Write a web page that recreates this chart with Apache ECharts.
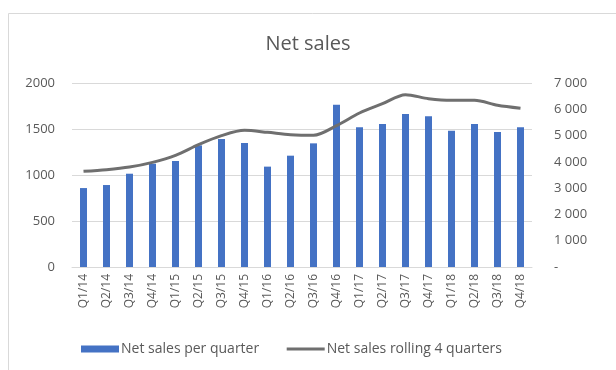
<!DOCTYPE html>
<html><head><meta charset="utf-8">
<script src="https://cdn.jsdelivr.net/npm/echarts@6/dist/echarts.min.js"></script>
<style>html,body{margin:0;padding:0;background:#fff}#c{width:616px;height:370px}</style>
</head><body><div id="c"></div>
<script>
const categories = ["Q1/14","Q2/14","Q3/14","Q4/14","Q1/15","Q2/15","Q3/15","Q4/15","Q1/16","Q2/16","Q3/16","Q4/16","Q1/17","Q2/17","Q3/17","Q4/17","Q1/18","Q2/18","Q3/18","Q4/18"];
const perQuarter = [858,891,1014,1123,1152,1322,1391,1348,1091,1210,1344,1764,1518,1554,1663,1638,1482,1554,1467,1518];
const rolling4 = [3640,3703,3804,3982,4248,4654,4996,5199,5123,5034,5010,5376,5858,6213,6556,6404,6340,6340,6150,6036];
const leftTicks = [0,500,1000,1500,2000];
const rightTicks = [0,1000,2000,3000,4000,5000,6000,7000];

const font = "'Open Sans', sans-serif";
const txt = '#595959';
const chart = echarts.init(document.getElementById('c'));
chart.setOption({
  animation: false,
  backgroundColor: '#fff',
  textStyle: {fontFamily: font},
  graphic: [{type:'rect', shape:{x:8.5,y:13.5,width:640,height:400}, style:{fill:'none',stroke:'#d9d9d9',lineWidth:1}, silent:true}],
  title: {text:'Net sales', left:'center', top:29, textStyle:{fontFamily:font, fontSize:20, fontWeight:'normal', color:txt}},
  grid: {left:72, right:84, top:83, bottom:103},
  legend: {bottom:9, left:76, itemGap:26, itemWidth:38, itemHeight:7,
    textStyle:{fontFamily:font, fontSize:14, color:txt, padding:[0,0,0,-3]},
    data:[{name:'Net sales per quarter', icon:'rect'},
          {name:'Net sales rolling 4 quarters', itemStyle:{opacity:0}, lineStyle:{width:3, color:'#6f6f6f'}}]},
  xAxis: {type:'category', data:categories,
    axisLine:{show:true, lineStyle:{color:'#d9d9d9'}}, axisTick:{show:false},
    axisLabel:{rotate:90, fontSize:12, color:txt, fontFamily:font, interval:0, margin:7}},
  yAxis: [
    {type:'value', min:leftTicks[0], max:leftTicks[leftTicks.length-1], interval:500,
     axisLine:{show:false}, axisTick:{show:false},
     splitLine:{lineStyle:{color:'#d9d9d9'}},
     axisLabel:{fontSize:13, color:txt, fontFamily:font, margin:17, formatter: v => String(v)}},
    {type:'value', min:rightTicks[0], max:rightTicks[rightTicks.length-1], interval:1000,
     axisLine:{show:false}, axisTick:{show:false}, splitLine:{show:false},
     axisLabel:{fontSize:13, color:txt, fontFamily:font, margin:22,
       formatter: v => v === 0 ? '-' : String(v).replace(/\B(?=(\d{3})+(?!\d))/g, ' ')}}
  ],
  series: [
    {name:'Net sales per quarter', type:'bar', data:perQuarter, yAxisIndex:0, barWidth:7,
     itemStyle:{color:'#4472C4'}},
    {name:'Net sales rolling 4 quarters', type:'line', data:rolling4, yAxisIndex:1,
     symbol:'none', smooth:0.3, lineStyle:{color:'#6f6f6f', width:3}, itemStyle:{color:'#6f6f6f'}}
  ]
});
</script></body></html>
